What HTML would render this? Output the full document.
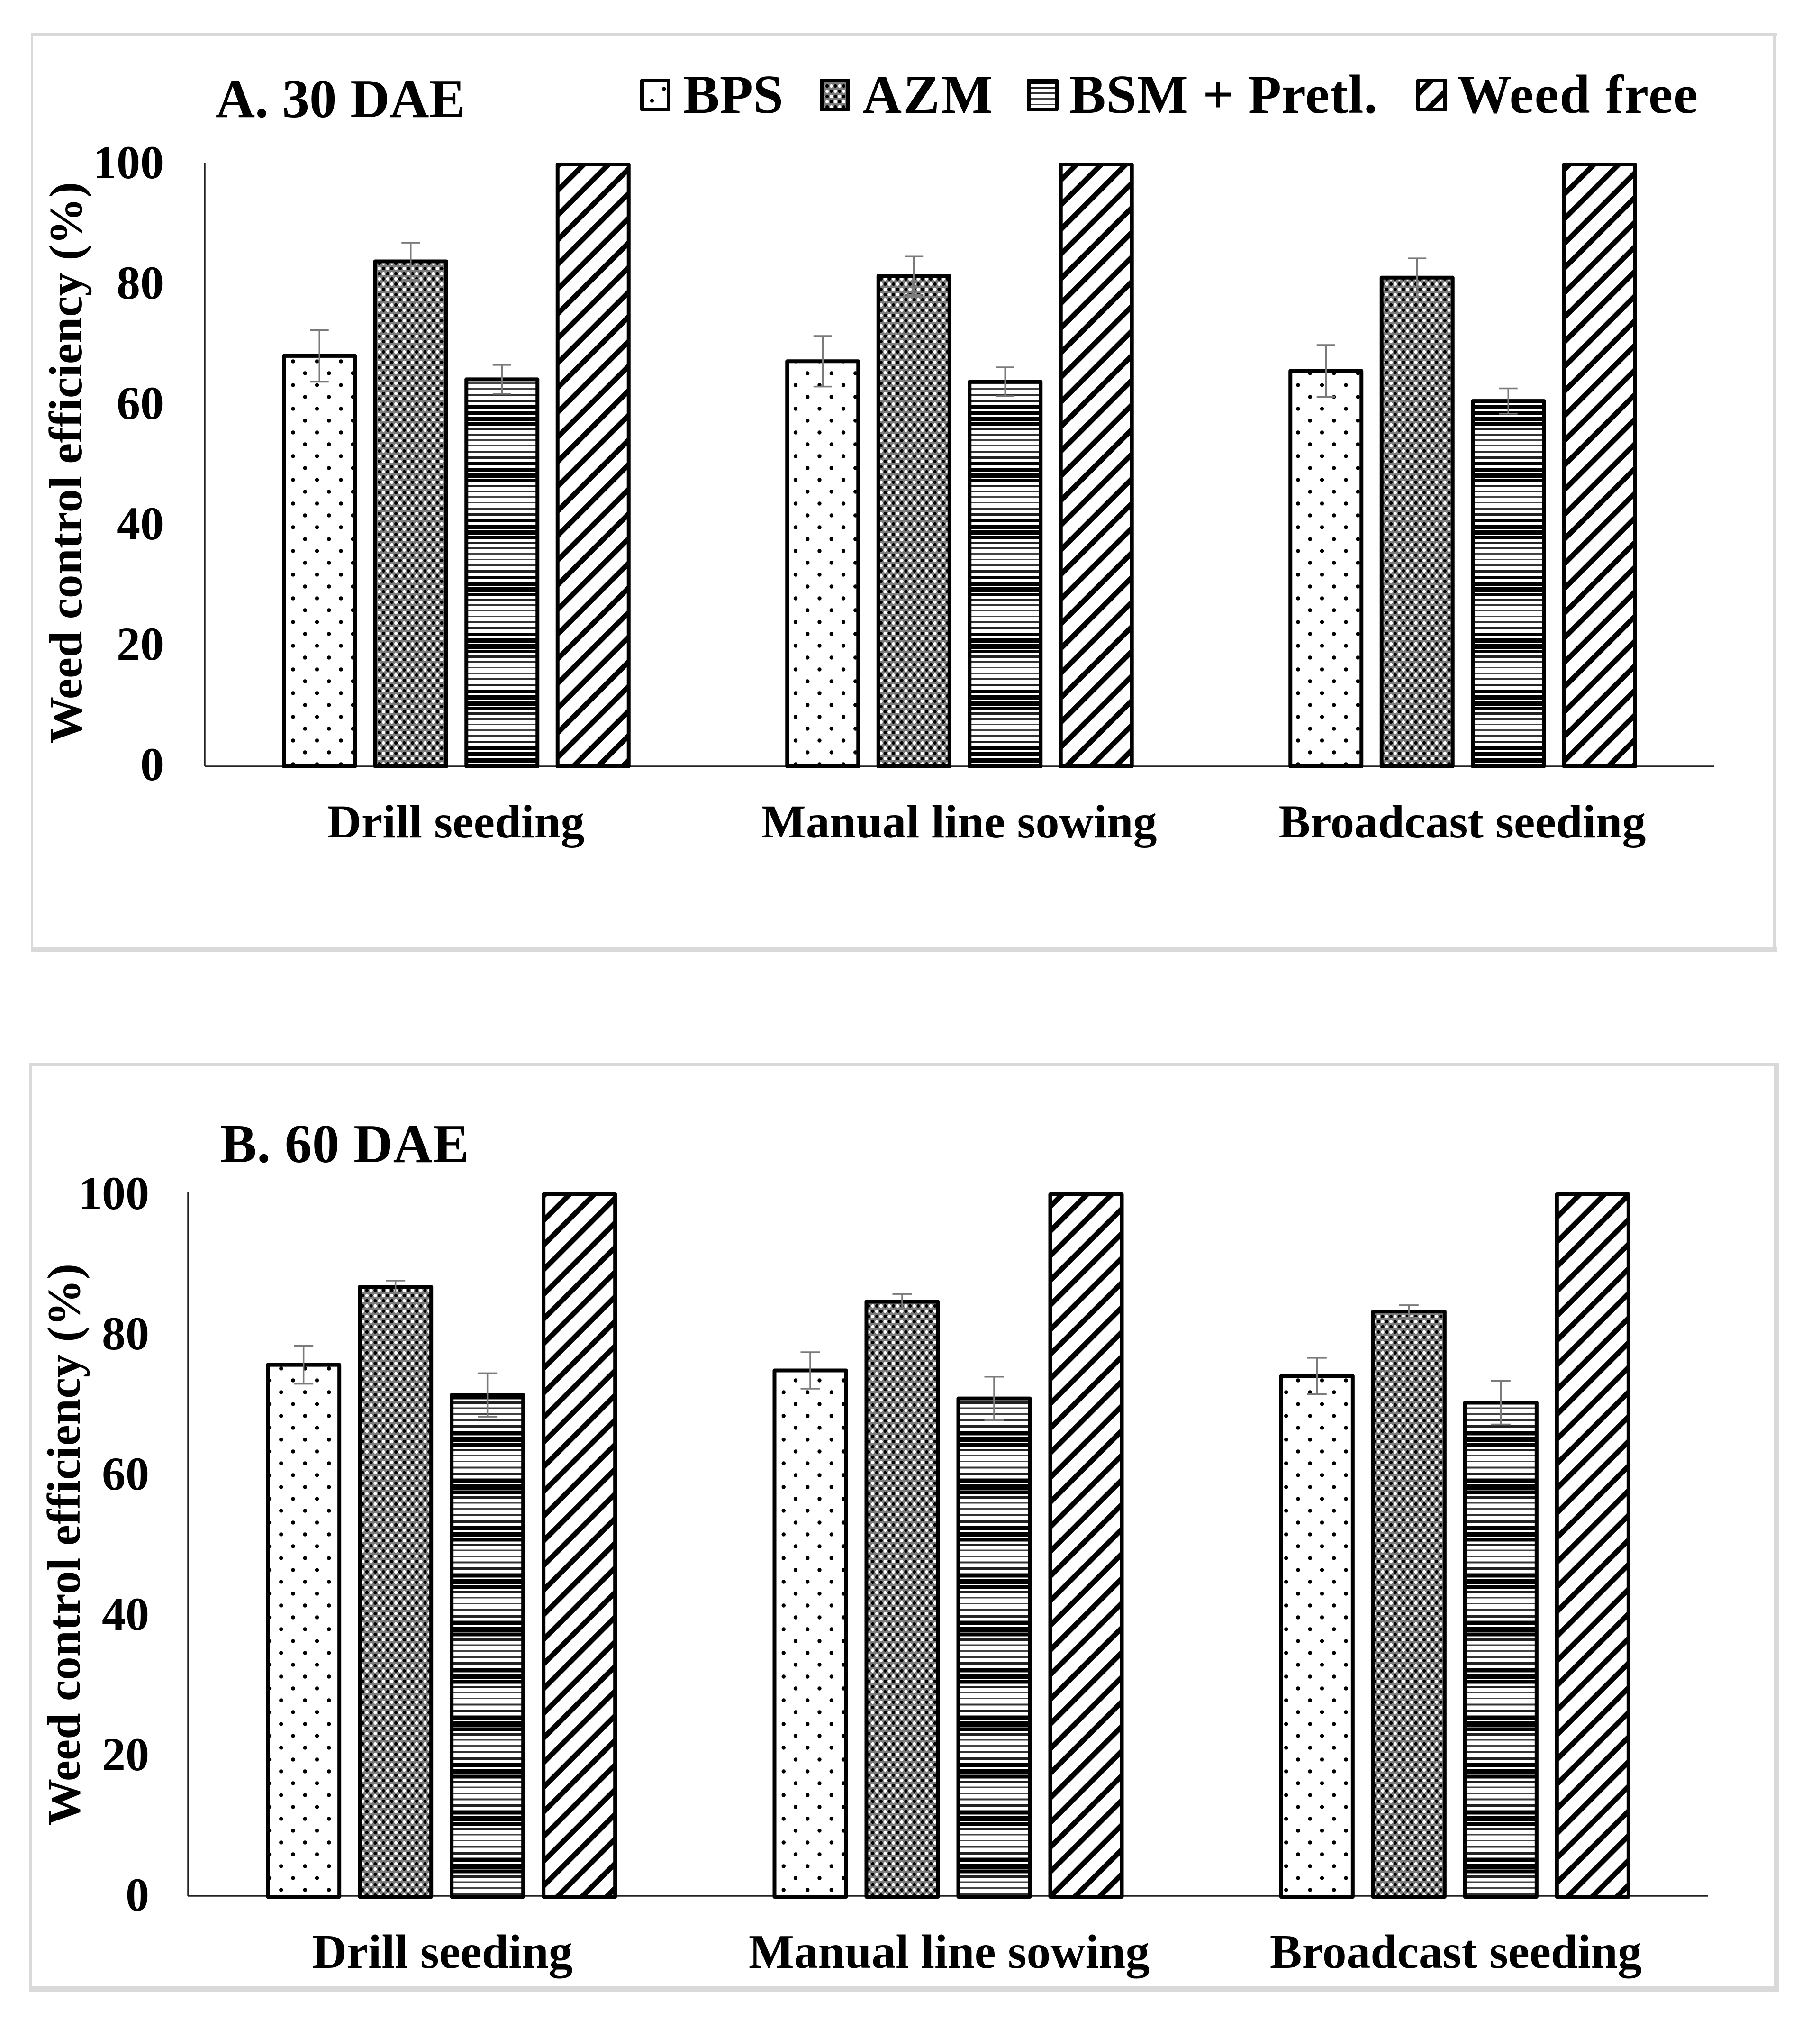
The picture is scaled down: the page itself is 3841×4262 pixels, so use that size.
<!DOCTYPE html>
<html lang="en">
<head>
<meta charset="utf-8">
<title>Weed control efficiency</title>
<style>
html,body{margin:0;padding:0;background:#fff;}
svg{display:block;}
text{font-family:"Liberation Serif",serif;font-weight:bold;fill:#000;}
</style>
</head>
<body>
<svg id="figure" xmlns="http://www.w3.org/2000/svg" width="3841" height="4262" viewBox="0 0 3841 4262">
<defs>
  <pattern id="dots" patternUnits="userSpaceOnUse" width="50.5" height="50">
    <rect width="50.5" height="50" fill="#fff"/>
    <circle cx="12.5" cy="12.5" r="4.2" fill="#000"/>
    <circle cx="37.75" cy="37.5" r="4.2" fill="#000"/>
  </pattern>
  <pattern id="mesh" patternUnits="userSpaceOnUse" width="17.5" height="22">
    <rect width="17.5" height="22" fill="#7c7c7c"/>
    <circle cx="4.4" cy="5.5" r="3.6" fill="#fff"/>
    <circle cx="13.1" cy="16.5" r="3.6" fill="#fff"/>
    <circle cx="13.1" cy="5.5" r="3.6" fill="#000"/>
    <circle cx="4.4" cy="16.5" r="3.6" fill="#000"/>
  </pattern>
  <pattern id="linesA" patternUnits="userSpaceOnUse" width="20" height="120" patternTransform="translate(0,-33)">
    <rect width="20" height="120" fill="#fff"/>
    <rect y="0" width="20" height="3" fill="#444"/><rect y="12" width="20" height="3" fill="#444"/>
    <rect y="24" width="20" height="4" fill="#333"/><rect y="36" width="20" height="5" fill="#222"/>
    <rect y="48" width="20" height="7" fill="#000"/><rect y="60" width="20" height="9" fill="#000"/>
    <rect y="72" width="20" height="10" fill="#000"/><rect y="84" width="20" height="7" fill="#000"/>
    <rect y="96" width="20" height="5" fill="#222"/><rect y="108" width="20" height="4" fill="#333"/>
  </pattern>
  <pattern id="linesB" patternUnits="userSpaceOnUse" width="20" height="100" patternTransform="translate(0,-18)">
    <rect width="20" height="100" fill="#fff"/>
    <rect y="0" width="20" height="3" fill="#444"/><rect y="12.5" width="20" height="4" fill="#333"/>
    <rect y="25" width="20" height="6" fill="#222"/><rect y="37.5" width="20" height="9" fill="#000"/>
    <rect y="50" width="20" height="11" fill="#000"/><rect y="62.5" width="20" height="8" fill="#000"/>
    <rect y="75" width="20" height="5" fill="#222"/><rect y="87.5" width="20" height="3" fill="#444"/>
  </pattern>
  <pattern id="stripesA" patternUnits="userSpaceOnUse" width="36.77" height="36.77" patternTransform="rotate(45)">
    <rect width="36.77" height="36.77" fill="#fff"/>
    <rect x="7.9" width="11" height="36.77" fill="#000"/>
  </pattern>
  <pattern id="stripesB" patternUnits="userSpaceOnUse" width="36.77" height="36.77" patternTransform="rotate(45)">
    <rect width="36.77" height="36.77" fill="#fff"/>
    <rect x="15.7" width="11" height="36.77" fill="#000"/>
  </pattern>
</defs>
<rect width="3841" height="4262" fill="#fff"/>

<g id="panelA">
  <rect x="65" y="70" width="3685" height="6" fill="#d9d9d9"/>
  <rect x="65" y="70" width="5" height="1939" fill="#d9d9d9"/>
  <rect x="3741" y="70" width="8" height="1939" fill="#d9d9d9"/>
  <rect x="65" y="1999" width="3685" height="10" fill="#d9d9d9"/>
  <text x="455" y="247" font-size="115">A. 30 DAE</text>
  <text transform="translate(172,1569) rotate(-90)" font-size="99" textLength="1185">Weed control efficiency (%)</text>
  <g>
    <rect x="1355" y="170" width="56" height="61" fill="url(#dots)" stroke="#000" stroke-width="8" stroke-linejoin="round"/>
    <text x="1442" y="238" font-size="115">BPS</text>
    <rect x="1734" y="170" width="56" height="61" fill="url(#mesh)" stroke="#000" stroke-width="8" stroke-linejoin="round"/>
    <text x="1820" y="238" font-size="115" textLength="275">AZM</text>
    <rect x="2171" y="170" width="59" height="61" fill="url(#linesA)" stroke="#000" stroke-width="8" stroke-linejoin="round"/>
    <text x="2257" y="238" font-size="115" textLength="650">BSM + Pretl.</text>
    <rect x="2993" y="170" width="57" height="61" fill="url(#stripesA)" stroke="#000" stroke-width="8" stroke-linejoin="round"/>
    <text x="3075" y="238" font-size="115" textLength="508">Weed free</text>
  </g>
</g>

<g id="panelB">
  <rect x="61" y="2243" width="3694" height="6" fill="#d9d9d9"/>
  <rect x="61" y="2243" width="6" height="1959" fill="#d9d9d9"/>
  <rect x="3744" y="2243" width="11" height="1959" fill="#d9d9d9"/>
  <rect x="61" y="4190" width="3694" height="12" fill="#d9d9d9"/>
  <text x="465" y="2452" font-size="115" textLength="525">B. 60 DAE</text>
  <text transform="translate(168,3852) rotate(-90)" font-size="99" textLength="1186">Weed control efficiency (%)</text>
</g>
</svg>

<script>
const categories = ["Drill seeding", "Manual line sowing", "Broadcast seeding"];
const seriesNames = ["BPS", "AZM", "BSM + Pretl.", "Weed free"];
const tickValues = [0, 20, 40, 60, 80, 100];

const dae30Bps = [68.2, 67.3, 65.7];
const dae30Azm = [83.9, 81.5, 81.2];
const dae30Bsm = [64.3, 63.9, 60.7];
const dae30Free = [100, 100, 100];
const dae30BpsErr = [4.3, 4.2, 4.3];
const dae30AzmErr = [3.1, 3.2, 3.2];
const dae30BsmErr = [2.4, 2.4, 2.1];

const dae60Bps = [75.7, 74.9, 74.1];
const dae60Azm = [86.8, 84.7, 83.3];
const dae60Bsm = [71.4, 70.9, 70.3];
const dae60Free = [100, 100, 100];
const dae60BpsErr = [2.7, 2.6, 2.6];
const dae60AzmErr = [0.9, 1.1, 0.9];
const dae60BsmErr = [3.1, 3.1, 3.1];

const SVGNS = "http://www.w3.org/2000/svg";

function makeY(y0, y100) {
  return function (v) { return y0 + (y100 - y0) * v / 100; };
}
function makeX(left, right, step) {
  const band = (right - left) / categories.length;
  return function (cat, ser) {
    return left + band * (cat + 0.5) + (ser - (seriesNames.length - 1) / 2) * step;
  };
}

function drawPanel(root, key, cfg, values, errors) {
  const y = makeY(cfg.y0, cfg.y100);
  const x = makeX(cfg.left, cfg.right, cfg.step);

  const yAxis = document.createElementNS(SVGNS, "line");
  yAxis.setAttribute("x1", cfg.left);
  yAxis.setAttribute("x2", cfg.left);
  yAxis.setAttribute("y1", y(100) - 4);
  yAxis.setAttribute("y2", y(0));
  yAxis.setAttribute("stroke", "#222");
  yAxis.setAttribute("stroke-width", "3.5");
  
  
  root.appendChild(yAxis);

  const xAxis = document.createElementNS(SVGNS, "line");
  xAxis.setAttribute("x1", cfg.left);
  xAxis.setAttribute("x2", cfg.right);
  xAxis.setAttribute("y1", y(0));
  xAxis.setAttribute("y2", y(0));
  xAxis.setAttribute("stroke", "#222");
  xAxis.setAttribute("stroke-width", "3.5");
  
  
  root.appendChild(xAxis);

  tickValues.forEach(function (t) {
    const label = document.createElementNS(SVGNS, "text");
    label.setAttribute("x", cfg.tickX);
    label.setAttribute("y", y(t) + cfg.tickDy);
    label.setAttribute("text-anchor", "end");
    label.setAttribute("font-size", "100");
    label.textContent = String(t);
    
    
    root.appendChild(label);
  });

  categories.forEach(function (name, c) {
    const label = document.createElementNS(SVGNS, "text");
    label.setAttribute("x", x(c, 1.5) + cfg.catDx);
    label.setAttribute("y", cfg.catY);
    label.setAttribute("text-anchor", "middle");
    label.setAttribute("font-size", cfg.catSize);
    label.setAttribute("letter-spacing", cfg.catSpacing);
    label.textContent = name;
    
    
    root.appendChild(label);
  });

  seriesNames.forEach(function (name, s) {
    categories.forEach(function (catName, c) {
      const v = values[s][c];
      const bar = document.createElementNS(SVGNS, "rect");
      bar.setAttribute("x", x(c, s) - cfg.barW / 2);
      bar.setAttribute("width", cfg.barW);
      bar.setAttribute("y", y(v));
      bar.setAttribute("height", y(0) + cfg.barDrop - y(v));
      bar.setAttribute("fill", "url(#" + cfg.fills[s] + ")");
      bar.setAttribute("stroke", "#000");
      bar.setAttribute("stroke-width", "8");
      bar.setAttribute("stroke-linejoin", "round");
      
      
      root.appendChild(bar);
    });
  });

  errors.forEach(function (series, s) {
    categories.forEach(function (catName, c) {
      const v = values[s][c];
      const e = series[c];
      const cx = x(c, s);
      const halfCap = cfg.capW / 2;
      const segments = [
        [cx, y(v + e), cx, y(v - e)],
        [cx - halfCap, y(v + e), cx + halfCap, y(v + e)],
        [cx - halfCap, y(v - e), cx + halfCap, y(v - e)]
      ];
      segments.forEach(function (seg) {
        const line = document.createElementNS(SVGNS, "line");
        line.setAttribute("x1", seg[0]);
        line.setAttribute("y1", seg[1]);
        line.setAttribute("x2", seg[2]);
        line.setAttribute("y2", seg[3]);
        line.setAttribute("stroke", "#7a7a7a");
        line.setAttribute("stroke-width", "3.5");
        
        
        root.appendChild(line);
      });
    });
  });
}

drawPanel(document.getElementById("panelA"), "a", {
  left: 432, right: 3618, y0: 1617, y100: 347, step: 192.5, barW: 150, barDrop: 0,
  capW: 39, tickX: 346, tickDy: 29, catY: 1767, catSize: 100, catSpacing: 0.1, catDx: -1,
  fills: ["dots", "mesh", "linesA", "stripesA"]
}, [dae30Bps, dae30Azm, dae30Bsm, dae30Free], [dae30BpsErr, dae30AzmErr, dae30BsmErr]);

drawPanel(document.getElementById("panelB"), "b", {
  left: 397, right: 3605, y0: 4000, y100: 2520, step: 194, barW: 151, barDrop: 2,
  capW: 41, tickX: 315, tickDy: 31, catY: 4152, catSize: 101.5, catSpacing: 0, catDx: 2,
  fills: ["dots", "mesh", "linesB", "stripesB"]
}, [dae60Bps, dae60Azm, dae60Bsm, dae60Free], [dae60BpsErr, dae60AzmErr, dae60BsmErr]);
</script>
</body>
</html>
